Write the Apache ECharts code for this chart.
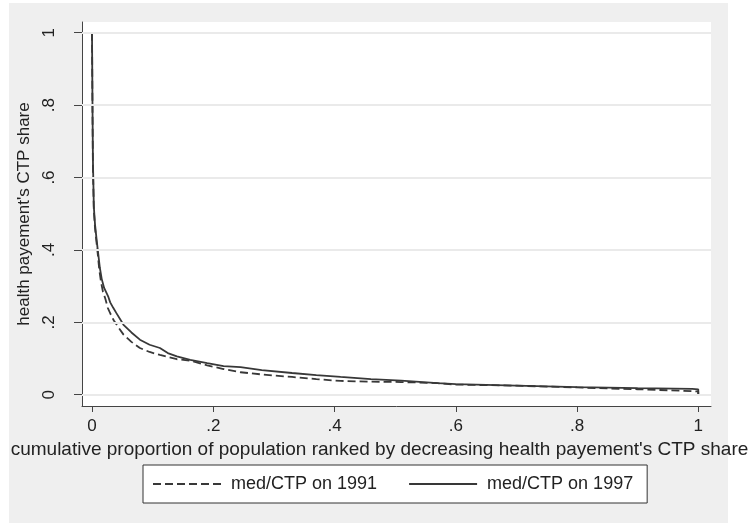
<!DOCTYPE html>
<html>
<head>
<meta charset="utf-8">
<script src="https://cdn.jsdelivr.net/npm/echarts@6/dist/echarts.min.js"></script>
<style>
  html, body { margin: 0; padding: 0; background: #ffffff; }
  #bg { position: absolute; left: 9px; top: 3px; width: 719px; height: 520px; background: #efefef; }
  #chart { position: absolute; left: 0; top: 0; width: 753px; height: 523px; }
</style>
</head>
<body>
<div id="bg"></div>
<div id="chart"></div>
<script>
// ---- data ----
const xTicks = [0, 0.2, 0.4, 0.6, 0.8, 1];
const yTicks = [0, 0.2, 0.4, 0.6, 0.8, 1];
const tickLabels = ['0', '.2', '.4', '.6', '.8', '1'];

const seriesNames = ['med/CTP on 1991', 'med/CTP on 1997'];

const x1991 = [0, 0.0008, 0.0015, 0.003, 0.005, 0.0075, 0.0094, 0.012, 0.015, 0.018, 0.022, 0.026, 0.03, 0.036, 0.042, 0.052, 0.065, 0.079, 0.095, 0.112, 0.14, 0.162, 0.19, 0.217, 0.245, 0.28, 0.33, 0.37, 0.41, 0.46, 0.51, 0.57, 0.60, 0.70, 0.80, 0.90, 0.99, 1.0, 1.0];
const y1991 = [1.0, 0.78, 0.63, 0.51, 0.46, 0.42, 0.39, 0.345, 0.31, 0.285, 0.265, 0.24, 0.225, 0.205, 0.19, 0.166, 0.146, 0.129, 0.118, 0.110, 0.098, 0.094, 0.081, 0.071, 0.062, 0.056, 0.049, 0.043, 0.038, 0.036, 0.035, 0.032, 0.028, 0.025, 0.020, 0.015, 0.010, 0.009, 0.0];

const x1997 = [0, 0.0008, 0.0015, 0.003, 0.005, 0.0075, 0.0095, 0.013, 0.016, 0.020, 0.027, 0.03, 0.035, 0.04, 0.052, 0.065, 0.079, 0.095, 0.112, 0.125, 0.14, 0.162, 0.19, 0.217, 0.245, 0.28, 0.33, 0.37, 0.41, 0.46, 0.51, 0.57, 0.60, 0.70, 0.80, 0.90, 0.99, 1.0, 1.0];
const y1997 = [1.0, 0.80, 0.65, 0.52, 0.47, 0.43, 0.40, 0.35, 0.32, 0.295, 0.27, 0.255, 0.24, 0.226, 0.193, 0.172, 0.152, 0.138, 0.129, 0.115, 0.106, 0.096, 0.087, 0.079, 0.076, 0.068, 0.060, 0.054, 0.049, 0.043, 0.039, 0.032, 0.029, 0.025, 0.021, 0.018, 0.016, 0.015, 0.0];

const xTitle = "cumulative proportion of population ranked by decreasing health payement's CTP share";
const yTitle = "health payement's CTP share";

// ---- chart ----
const pairs = (xs, ys) => xs.map((x, i) => [x, ys[i]]);
const fmt = v => tickLabels[xTicks.findIndex(t => Math.abs(t - v) < 1e-9)] ?? '';
const fmtY = v => tickLabels[yTicks.findIndex(t => Math.abs(t - v) < 1e-9)] ?? '';

const chart = echarts.init(document.getElementById('chart'), null, { renderer: 'canvas' });
const FONT = 'Liberation Sans, Arial, sans-serif';
const LINE = '#383838';

chart.setOption({
  animation: false,
  backgroundColor: 'transparent',
  textStyle: { fontFamily: FONT },
  grid: {
    left: 82, right: 42, top: 22, bottom: 117,
    show: true, backgroundColor: '#ffffff', borderWidth: 0
  },
  legend: {
    data: seriesNames,
    left: 143, top: 465,
    orient: 'horizontal',
    itemWidth: 68, itemHeight: 16, itemGap: 31,
    padding: [10, 14, 10, 9],
    backgroundColor: '#ffffff',
    borderColor: '#333333', borderWidth: 1, borderRadius: 0,
    itemStyle: { color: 'rgba(0,0,0,0)', borderColor: 'rgba(0,0,0,0)', borderWidth: 0, opacity: 0 },
    textStyle: { fontSize: 18, color: '#222', fontFamily: FONT, padding: [0, 0, 0, 5] },
    selectedMode: false
  },
  xAxis: {
    type: 'value',
    min: -0.0165, max: 1.021,
    name: xTitle,
    nameLocation: 'middle',
    nameGap: 29,
    nameTextStyle: { fontSize: 19, color: '#222', fontFamily: FONT, padding: [0, 34, 0, 0] },
    axisLine: { show: true, onZero: false, lineStyle: { color: '#444', width: 1 } },
    axisTick: { show: true, length: 6, customValues: xTicks, lineStyle: { color: '#444' } },
    axisLabel: { customValues: xTicks, formatter: fmt, fontSize: 17, color: '#222', margin: 12, fontFamily: FONT },
    splitLine: { show: false }
  },
  yAxis: {
    type: 'value',
    min: -0.0312, max: 1.0296,
    name: yTitle,
    nameLocation: 'middle',
    nameGap: 42,
    nameTextStyle: { fontSize: 17, color: '#222', fontFamily: FONT },
    axisLine: { show: true, onZero: false, lineStyle: { color: '#444', width: 1 } },
    axisTick: { show: true, length: 8, customValues: yTicks, lineStyle: { color: '#444' } },
    axisLabel: { customValues: yTicks, formatter: fmtY, rotate: 90, fontSize: 17, color: '#222', margin: 24, fontFamily: FONT },
    splitLine: { show: false }
  },
  series: [
    {
      name: 'grid',
      type: 'line',
      data: [],
      z: 1,
      silent: true,
      markLine: {
        silent: true,
        symbol: ['none', 'none'],
        label: { show: false },
        lineStyle: { color: '#eaeaea', width: 2, type: 'solid' },
        data: yTicks.map(v => ({ yAxis: v }))
      }
    },
    {
      name: seriesNames[0],
      type: 'line',
      z: 3,
      symbol: 'none',
      showSymbol: false,
      lineStyle: { color: LINE, width: 1.8, type: [8, 4] },
      itemStyle: { color: LINE },
      data: pairs(x1991, y1991)
    },
    {
      name: seriesNames[1],
      type: 'line',
      z: 4,
      symbol: 'none',
      showSymbol: false,
      lineStyle: { color: LINE, width: 1.8, type: 'solid' },
      itemStyle: { color: LINE },
      data: pairs(x1997, y1997)
    }
  ]
});
</script>
</body>
</html>
